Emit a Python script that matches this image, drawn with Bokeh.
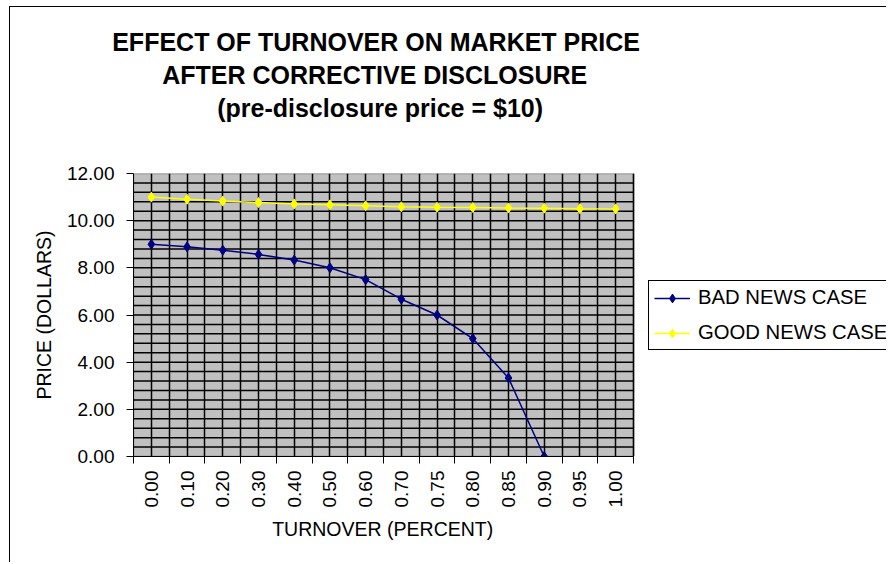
import math
from bokeh.plotting import figure
from bokeh.models import Range1d, FixedTicker, Legend, LegendItem, PrintfTickFormatter, Title
from bokeh.embed import file_html
from bokeh.resources import INLINE

# ---- data ----
turnover = ["0.00", "0.10", "0.20", "0.30", "0.40", "0.50", "0.60", "0.70",
            "0.75", "0.80", "0.85", "0.90", "0.95", "1.00"]
bad_news = [9.00, 8.89, 8.75, 8.57, 8.33, 8.00, 7.50, 6.67, 6.00, 5.00, 3.33, 0.00]
good_news = [11.00, 10.91, 10.83, 10.77, 10.71, 10.67, 10.63, 10.59, 10.57,
             10.56, 10.54, 10.53, 10.51, 10.50]
y_ticks = [0, 2, 4, 6, 8, 10, 12]
y_minor_step = 0.4
title_lines = ["EFFECT OF TURNOVER ON MARKET PRICE",
               "AFTER CORRECTIVE DISCLOSURE",
               "(pre-disclosure price = $10)"]
x_title = "TURNOVER (PERCENT)"
y_title = "PRICE (DOLLARS)"
series_names = ["BAD NEWS CASE", "GOOD NEWS CASE"]

FONT = "Liberation Sans"
n = len(turnover)
centers = [i + 0.5 for i in range(n)]
bounds = list(range(n + 1))
y0, y1 = y_ticks[0], y_ticks[-1]

W, H = 886, 562
PLOT_LEFT, PLOT_W = 133, 500          # pixel geometry of the grey plot area
frame_w = W - PLOT_LEFT
x_end = n * frame_w / PLOT_W          # frame extends right to hold the legend

p = figure(width=W, height=H, output_backend="svg", toolbar_location=None,
           x_range=Range1d(0, x_end), y_range=Range1d(y0, y1),
           min_border_left=PLOT_LEFT, min_border_right=0, min_border_top=173,
           min_border_bottom=H - 456)
p.title.visible = False
# outer chart-area frame (left and top edges visible, rest runs off the window)
p.styles = {
    "background-color": "white",
    "background-image": "linear-gradient(black, black), linear-gradient(black, black)",
    "background-size": "1px 100%, 100% 1px",
    "background-position": "9px 6px, 9px 6px",
    "background-repeat": "no-repeat",
}
p.border_fill_color = None
p.background_fill_color = None
p.outline_line_color = None

# grey plot area
p.quad(left=[0], right=[n], bottom=[y0], top=[y1], fill_color="#C0C0C0",
       line_color="#808080", line_width=1.5, level="image")

# grids
p.xgrid.ticker = FixedTicker(ticks=sorted(centers + bounds))
p.xgrid.grid_line_color = "black"
p.xgrid.grid_line_width = 1.5
p.xgrid.grid_line_alpha = 1
p.ygrid.visible = False
nminor = int(round((y1 - y0) / y_minor_step))
hy = [y0 + k * y_minor_step for k in range(1, nminor)]
p.segment(x0=[0] * len(hy), x1=[n] * len(hy), y0=hy, y1=hy,
          line_color="black", line_width=1.5, level="underlay")

# x axis
xa = p.xaxis[0]
xa.bounds = (0, n)
xa.ticker = FixedTicker(ticks=centers, minor_ticks=bounds)
xa.major_label_overrides = {c: t for c, t in zip(centers, turnover)}
xa.major_tick_line_color = None
xa.major_tick_out = 0
xa.major_tick_in = 0
xa.minor_tick_line_color = "black"
xa.minor_tick_out = 7
xa.minor_tick_in = 0
xa.major_label_orientation = math.pi / 2
xa.major_label_standoff = 7
xa.major_label_text_font = FONT
xa.major_label_text_font_size = "19px"
xa.major_label_text_color = "black"
xa.axis_line_color = "black"
p.add_layout(Title(text=x_title, align="left", offset=138.7, standoff=14,
                   vertical_align="top", text_font=FONT, text_font_size="19.5px",
                   text_font_style="normal", text_color="black"), "below")

# y axis
ya = p.yaxis[0]
ya.ticker = FixedTicker(ticks=y_ticks)
ya.formatter = PrintfTickFormatter(format="%.2f")
ya.major_tick_out = 7
ya.major_tick_in = 0
ya.major_tick_line_color = "black"
ya.minor_tick_line_color = None
ya.major_label_standoff = 12
ya.major_label_text_font = FONT
ya.major_label_text_font_size = "19px"
ya.major_label_text_color = "black"
ya.axis_label = y_title
ya.axis_label_text_font = FONT
ya.axis_label_text_font_size = "19.5px"
ya.axis_label_text_font_style = "normal"
ya.axis_label_text_color = "black"
ya.axis_label_standoff = 9
ya.axis_line_color = "black"

# series
bx = centers[:len(bad_news)]
gx = centers[:len(good_news)]
bl = p.line(bx, bad_news, line_color="#000080", line_width=1.5)
bm = p.scatter(bx, bad_news, marker="diamond", size=10,
               fill_color="#000080", line_color="#000080")
gl = p.line(gx, good_news, line_color="#FFFF00", line_width=1.5)
gm = p.scatter(gx, good_news, marker="diamond", size=10,
               fill_color="#FFFF00", line_color="#FFFF00")

legend = Legend(items=[LegendItem(label=series_names[0], renderers=[bl, bm]),
                       LegendItem(label=series_names[1], renderers=[gl, gm])],
                location=(515, 106), orientation="vertical",
                label_text_font=FONT, label_text_font_size="20.3px",
                label_text_color="black",
                glyph_width=36, glyph_height=22, label_height=22,
                label_standoff=8, spacing=12, padding=5, margin=0,
                border_line_color="black", border_line_width=1, border_line_alpha=1,
                background_fill_color="white", background_fill_alpha=1)
p.add_layout(legend, "center")

# title: spacer nearest the plot, then the three lines outward
p.add_layout(Title(text=" ", text_font=FONT, text_font_size="25px", standoff=20), "above")
offsets = [-21.3, 28.7, 83.7]
for txt, off in reversed(list(zip(title_lines, offsets))):
    p.add_layout(Title(text=txt, align="left", offset=off, standoff=3,
                       text_font=FONT, text_font_size="25px", text_font_style="bold",
                       text_color="black"), "above")

open("out.html", "w").write(file_html(p, INLINE))
